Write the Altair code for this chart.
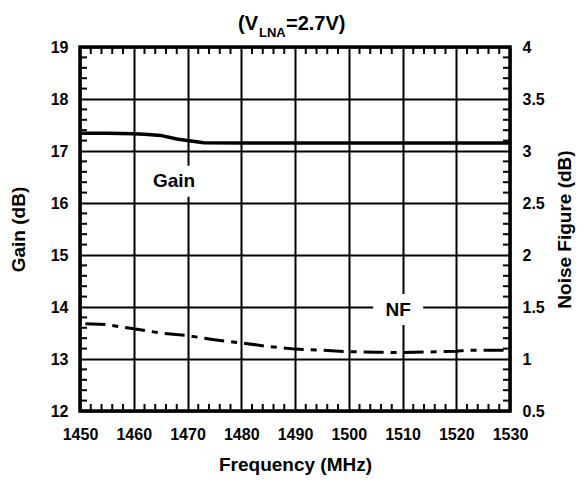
import altair as alt
import pandas as pd

# ---- data ----
gain_freq = [1450, 1455, 1460, 1462, 1465, 1468, 1470, 1473, 1480, 1490, 1500, 1510, 1520, 1530]
gain_db = [17.34, 17.34, 17.33, 17.32, 17.30, 17.23, 17.20, 17.16, 17.155, 17.155, 17.155, 17.155, 17.155, 17.155]

nf_freq = [1451, 1455, 1460, 1465, 1470, 1475, 1480, 1485, 1490, 1495, 1500, 1505, 1510, 1515, 1520, 1522, 1530]
nf_db = [1.34, 1.33, 1.29, 1.25, 1.225, 1.185, 1.155, 1.12, 1.095, 1.085, 1.07, 1.065, 1.0625, 1.0675, 1.075, 1.085, 1.085]

x_ticks = [1450, 1460, 1470, 1480, 1490, 1500, 1510, 1520, 1530]
gain_ticks = [12, 13, 14, 15, 16, 17, 18, 19]
nf_ticks = [0.5, 1, 1.5, 2, 2.5, 3, 3.5, 4]
gain_minor = [g + k * 0.2 for g in range(12, 19) for k in (1, 2, 3, 4)]
freq_minor = [f + k for f in range(1450, 1530, 10) for k in (2, 4, 6, 8)]

label_text = ["Gain", "NF"]
label_freq = [1467.5, 1509.2]
label_gain = [16.42, 13.95]

W, H = 430, 364
FONT = "Liberation Sans"

gain_df = pd.DataFrame({"freq": gain_freq, "gain": gain_db})
nf_df = pd.DataFrame({"freq": nf_freq, "nf": nf_db})
gminor_df = pd.DataFrame({"gain": gain_minor})
fminor_df = pd.DataFrame({"freq": freq_minor})
lab_df = pd.DataFrame({"text": label_text, "freq": label_freq, "gain": label_gain})
one_df = pd.DataFrame({"k": [0]})

xscale = alt.Scale(domain=[1450, 1530], nice=False, zero=False)
gscale = alt.Scale(domain=[12, 19], nice=False, zero=False)
nscale = alt.Scale(domain=[0.5, 4], nice=False, zero=False)

x_axis = alt.Axis(values=x_ticks, format="d", title="Frequency (MHz)",
                  labelPadding=15, titlePadding=13, grid=True,
                  labelFlush=False, labelOverlap=False, labelBound=False)


def X():
    return alt.X("freq:Q", scale=xscale, axis=x_axis)


gain_line = alt.Chart(gain_df).mark_line(color="black", strokeWidth=3.5).encode(
    x=X(),
    y=alt.Y("gain:Q", scale=gscale,
            axis=alt.Axis(values=gain_ticks, title="Gain (dB)", grid=True,
                          labelPadding=12, titlePadding=22, labelFlush=False)),
)

nf_line = alt.Chart(nf_df).mark_line(color="black", strokeWidth=3, strokeDash=[20, 7, 6, 7]).encode(
    x=X(),
    y=alt.Y("nf:Q", scale=nscale,
            axis=alt.Axis(orient="right", values=nf_ticks, title="Noise Figure (dB)",
                          labelExpr="'' + datum.value", grid=False, labelPadding=12,
                          titlePadding=30, titleAngle=270, labelFlush=False)),
)

tick_left = alt.Chart(gminor_df).mark_rule(color="black", strokeWidth=2).encode(
    y=alt.Y("gain:Q", scale=gscale, axis=None), x=alt.value(0), x2=alt.value(7))
tick_right = alt.Chart(gminor_df).mark_rule(color="black", strokeWidth=2).encode(
    y=alt.Y("gain:Q", scale=gscale, axis=None), x=alt.value(W - 7), x2=alt.value(W))
tick_top = alt.Chart(fminor_df).mark_rule(color="black", strokeWidth=2).encode(
    x=X(), y=alt.value(0), y2=alt.value(7))
tick_bottom = alt.Chart(fminor_df).mark_rule(color="black", strokeWidth=2).encode(
    x=X(), y=alt.value(H - 7), y2=alt.value(H))

box = alt.Chart(lab_df).mark_point(
    shape="M-1,-0.62L1,-0.62L1,0.62L-1,0.62Z", filled=True, fill="white",
    opacity=1, size=2500, strokeWidth=0).encode(
    x=X(),
    y=alt.Y("gain:Q", scale=gscale, axis=None),
)

labels = alt.Chart(lab_df).mark_text(font=FONT, fontWeight="bold", fontSize=19,
                                     color="black", baseline="middle", align="center").encode(
    x=X(),
    y=alt.Y("gain:Q", scale=gscale, axis=None),
    text="text:N",
)

t1 = alt.Chart(one_df).mark_text(font=FONT, fontWeight="bold", fontSize=20, color="black",
                                 align="right", baseline="alphabetic").encode(
    x=alt.value(178), y=alt.value(-17), text=alt.value("(V"))
t2 = alt.Chart(one_df).mark_text(font=FONT, fontWeight="bold", fontSize=13, color="black",
                                 align="left", baseline="alphabetic").encode(
    x=alt.value(179), y=alt.value(-10), text=alt.value("LNA"))
t3 = alt.Chart(one_df).mark_text(font=FONT, fontWeight="bold", fontSize=20, color="black",
                                 align="left", baseline="alphabetic").encode(
    x=alt.value(206), y=alt.value(-17), text=alt.value("=2.7V)"))

chart = alt.layer(
    gain_line, nf_line, tick_left, tick_right, tick_top, tick_bottom, box, labels, t1, t2, t3
).resolve_scale(y="independent").properties(
    width=W, height=H,
    autosize=alt.AutoSizeParams(type="none"),
    padding={"left": 72, "top": 39, "right": 69, "bottom": 64},
).configure_view(
    stroke="black", strokeWidth=3.5
).configure_axis(
    labelFont=FONT, labelFontWeight="bold", labelFontSize=16, labelColor="black",
    titleFont=FONT, titleFontWeight="bold", titleFontSize=19, titleColor="black",
    gridColor="black", gridWidth=2, gridOpacity=1, domain=False, ticks=False,
)

chart.save("out.html", embed_options={"renderer": "svg", "actions": False})
